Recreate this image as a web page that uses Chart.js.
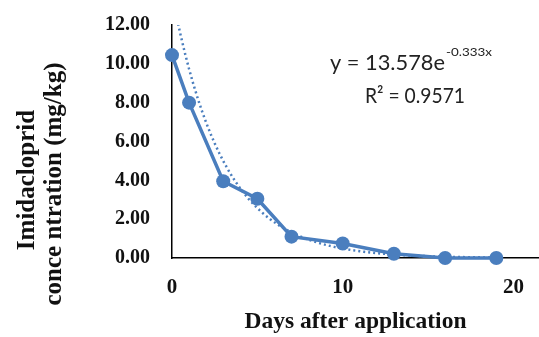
<!DOCTYPE html>
<html><head><meta charset="utf-8">
<script src="https://cdn.jsdelivr.net/npm/chart.js@4.4.1/dist/chart.umd.min.js"></script>
<style>html,body{margin:0;padding:0;background:#fff;overflow:hidden}</style>
</head><body>
<canvas id="c" width="539" height="337"></canvas>
<script>
// ---- data ----
const days = [0, 1, 3, 5, 7, 10, 13, 16, 19];
const concentration = [10.45, 8.0, 3.95, 3.05, 1.1, 0.75, 0.22, 0.0, 0.0];
const xTicks = [0, 10, 20];
const xTickLabels = ['0', '10', '20'];
const yTicks = [0, 2, 4, 6, 8, 10, 12];
const yTickLabels = ['0.00', '2.00', '4.00', '6.00', '8.00', '10.00', '12.00'];
// exponential trendline as printed on the chart: y = 13.578 e^(-0.333x)
const trendA = 13.578;
const trendK = -0.333;
const trendStart = 0, trendEnd = 19, trendStep = 0.25;
const trendEquation = 'y = 13.578e';
const trendExponent = '-0.333x';
const trendR2 = 'R² = 0.9571';
const xTitle = 'Days after application';
const yTitleLines = ['Imidacloprid', 'conce ntration (mg/kg)'];

const trendPoints = [];
for (let x = trendStart; x <= trendEnd + 1e-9; x += trendStep) {
  trendPoints.push({x: x, y: trendA * Math.exp(trendK * x)});
}

const BLUE = '#4A7EBE';
const serif = '"Liberation Serif", "Times New Roman", serif';
const sans = 'Lato, "Open Sans", sans-serif';

// draw text squeezed/stretched horizontally to a given width
function fitText(ctx, text, font, x, y, width, align) {
  ctx.save();
  ctx.font = font;
  const w = ctx.measureText(text).width;
  const s = width / w;
  ctx.textAlign = 'left';
  const left = align === 'center' ? x - width / 2 : x;
  ctx.translate(left, y);
  ctx.scale(s, 1);
  ctx.fillText(text, 0, 0);
  ctx.restore();
}

const extraText = {
  id: 'extraText',
  afterDraw(chart) {
    const ctx = chart.ctx;
    ctx.save();
    ctx.fillStyle = '#111';
    // y-axis title (two rotated lines)
    ctx.font = 'bold 25px ' + serif;
    ctx.textAlign = 'center';
    ctx.textBaseline = 'middle';
    const xs = [28, 55];
    const cy = [180, 184];
    yTitleLines.forEach((t, i) => {
      ctx.save();
      ctx.translate(xs[i], cy[i]);
      ctx.rotate(-Math.PI / 2);
      ctx.fillText(t, 0, 0);
      ctx.restore();
    });
    // trendline equation
    ctx.fillStyle = '#222';
    ctx.textBaseline = 'alphabetic';
    fitText(ctx, trendEquation, '22px ' + sans, 330, 70, 115, 'left');
    fitText(ctx, trendExponent, '11px ' + sans, 446, 56, 46, 'left');
    fitText(ctx, trendR2, '22px ' + sans, 415, 103, 100, 'center');
    ctx.restore();
  }
};

new Chart(document.getElementById('c'), {
  type: 'scatter',
  data: {
    datasets: [
      {
        label: 'Trend',
        data: trendPoints,
        showLine: true,
        borderColor: BLUE,
        borderWidth: 2.5,
        borderDash: [2, 3],
        pointRadius: 0,
        fill: false,
        order: 2
      },
      {
        label: 'Imidacloprid',
        data: days.map((d, i) => ({x: d, y: concentration[i]})),
        showLine: true,
        borderColor: BLUE,
        borderWidth: 3.5,
        pointRadius: 7,
        pointBackgroundColor: BLUE,
        pointBorderColor: BLUE,
        pointBorderWidth: 0,
        clip: false,
        order: 1
      }
    ]
  },
  options: {
    responsive: false,
    animation: false,
    devicePixelRatio: 1,
    layout: {autoPadding: false, padding: {top: 25, left: 0, right: 0, bottom: 0}},
    plugins: {legend: {display: false}, tooltip: {enabled: false}},
    scales: {
      x: {
        type: 'linear', min: 0, max: 21.5,
        grid: {display: true, drawOnChartArea: false, drawTicks: true, tickLength: 17, color: 'rgba(0,0,0,0)'},
        border: {color: '#000', width: 1.5},
        afterBuildTicks: s => { s.ticks = xTicks.map(v => ({value: v})); },
        afterFit: s => { s.height = 79; },
        ticks: {
          callback: (v) => xTickLabels[xTicks.indexOf(v)],
          font: {family: serif, weight: 'bold', size: 21},
          color: '#111', padding: 0, maxRotation: 0, autoSkip: false
        },
        title: {
          display: true, text: xTitle, color: '#111',
          font: {family: serif, weight: 'bold', size: 23.5},
          padding: {top: 0, bottom: 1}
        }
      },
      y: {
        type: 'linear', min: 0, max: 12,
        grid: {display: true, drawOnChartArea: false, drawTicks: true, tickLength: 22, color: 'rgba(0,0,0,0)'},
        border: {color: '#000', width: 1.5},
        afterBuildTicks: s => { s.ticks = yTicks.map(v => ({value: v})); },
        afterFit: s => { s.width = 172; },
        ticks: {
          callback: (v) => yTickLabels[yTicks.indexOf(v)],
          font: {family: serif, weight: 'bold', size: 20},
          color: '#111', padding: 0, autoSkip: false
        }
      }
    }
  },
  plugins: [extraText]
});
</script>
</body></html>
